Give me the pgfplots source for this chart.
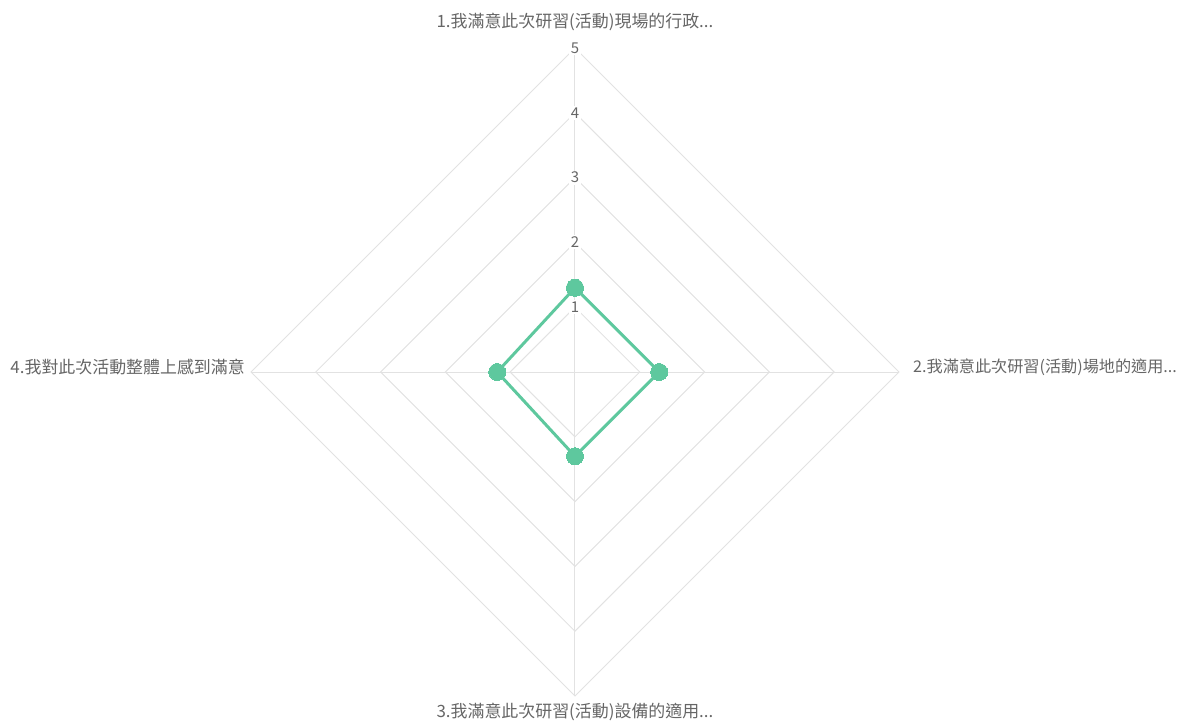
\documentclass[border=0pt]{standalone}
\usepackage{fontspec}
\setmainfont{Noto Sans CJK TC}
\usepackage{pgfplots}
\pgfplotsset{compat=1.18}

\definecolor{gridc}{RGB}{226,226,226}
\definecolor{txt}{RGB}{102,102,102}
\definecolor{serie}{RGB}{94,200,158}

\begin{document}
\begin{tikzpicture}
\begin{axis}[
    x=64.8bp, y=64.8bp,
    xmin=-8.873, xmax=9.414,
    ymin=-5.401, ymax=5.741,
    axis line style={draw=none},
    xtick=\empty, ytick=\empty,
    clip=false,
    scale only axis,
]
% grid rings
\addplot[gridc, line width=1pt] coordinates {(0,1)(1,0)(0,-1)(-1,0)(0,1)};
\addplot[gridc, line width=1pt] coordinates {(0,2)(2,0)(0,-2)(-2,0)(0,2)};
\addplot[gridc, line width=1pt] coordinates {(0,3)(3,0)(0,-3)(-3,0)(0,3)};
\addplot[gridc, line width=1pt] coordinates {(0,4)(4,0)(0,-4)(-4,0)(0,4)};
\addplot[gridc, line width=1pt] coordinates {(0,5)(5,0)(0,-5)(-5,0)(0,5)};
% spokes
\addplot[gridc, line width=1pt] coordinates {(0,5)(0,-5)};
\addplot[gridc, line width=1pt] coordinates {(-5,0)(5,0)};

% radial tick labels
\pgfplotsinvokeforeach{1,...,5}{
  \node[fill=white, inner sep=1.5pt, text=txt, font=\fontsize{15}{17}\selectfont] at (axis cs:0,#1) {#1};
}

% series: values 1.3 (top), 1.3 (right), 1.3 (bottom), 1.2 (left)
\addplot[serie, line width=3pt, mark=*, mark size=8.5bp, mark options={fill=serie, draw=serie, line width=0pt}]
  coordinates {(0,1.3)(1.3,0)(0,-1.3)(-1.2,0)(0,1.3)};

% category labels
\node[text=txt, inner sep=0pt, font=\fontsize{17}{19}\selectfont] at (axis cs:0,5.40) {1.我滿意此次研習(活動)現場的行政...};
\node[text=txt, inner sep=0pt, font=\fontsize{16.2}{18}\selectfont, anchor=west] at (axis cs:5.216,0.08) {2.我滿意此次研習(活動)場地的適用...};
\node[text=txt, inner sep=0pt, font=\fontsize{17}{19}\selectfont] at (axis cs:0,-5.25) {3.我滿意此次研習(活動)設備的適用...};
\node[text=txt, inner sep=0pt, font=\fontsize{17}{19}\selectfont, anchor=east] at (axis cs:-5.093,0.08) {4.我對此次活動整體上感到滿意};
\end{axis}
\end{tikzpicture}
\end{document}
